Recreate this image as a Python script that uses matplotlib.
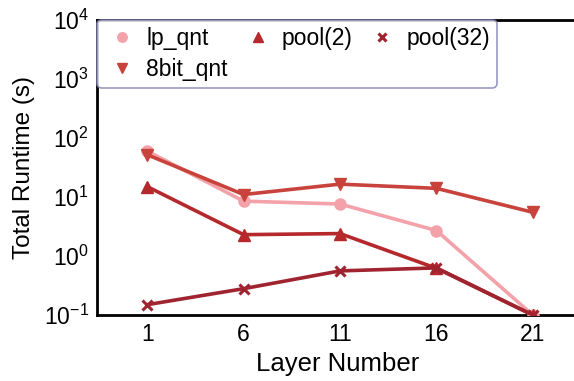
import matplotlib.pyplot as plt

plt.rcParams['font.family'] = ['Liberation Sans', 'DejaVu Sans']

layers = [1, 6, 11, 16, 21]
lp_qnt = [60, 8.5, 7.6, 2.7, 0.1]
bit8_qnt = [52, 11, 16.5, 14, 5.5]
pool2 = [15, 2.3, 2.4, 0.62, 0.1]
pool32 = [0.15, 0.28, 0.56, 0.63, 0.1]

fig = plt.figure(figsize=(5.74, 3.81), dpi=100)
ax = fig.add_axes([0.169, 0.173, 0.84, 0.775])

lw = 2.6
ax.plot(layers, lp_qnt, color='#f4a2aa', marker='o', ms=8, lw=lw, label='lp_qnt', zorder=3)
ax.plot(layers, bit8_qnt, color='#c8433c', marker='v', ms=8, lw=lw, label='8bit_qnt', zorder=4)
ax.plot(layers, pool2, color='#b5282c', marker='^', ms=8, lw=lw, label='pool(2)', zorder=4)
ax.plot(layers, pool32, color='#a02430', marker='x', ms=7, mew=2.2, lw=lw, label='pool(32)', zorder=4)

ax.set_yscale('log')
ax.set_ylim(0.1, 1e4)
ax.set_xlim(-1.6, 23.4)
ax.set_xticks(layers)
ax.set_yticks([1e-1, 1, 10, 1e2, 1e3, 1e4])
ax.minorticks_off()
ax.tick_params(length=0, labelsize=16.5, pad=6)
ax.set_xlabel('Layer Number', fontsize=18.5, labelpad=4)
ax.set_ylabel('Total Runtime (s)', fontsize=17.5, labelpad=6)

for s in ['left', 'bottom', 'top']:
    ax.spines[s].set_linewidth(2)
ax.spines['right'].set_visible(False)

leg = ax.legend(loc='upper left', ncol=3, fontsize=16.5, frameon=True, fancybox=True,
                borderaxespad=0.0, handlelength=1.6, handletextpad=0.25, columnspacing=0.5,
                labelspacing=0.35, borderpad=0.3, markerscale=0.85)
for h in leg.legend_handles:
    h.set_linestyle('None')
leg.get_frame().set_edgecolor('#8080b8')
leg.get_frame().set_linewidth(1.2)

fig.savefig('out.png', dpi=100)
